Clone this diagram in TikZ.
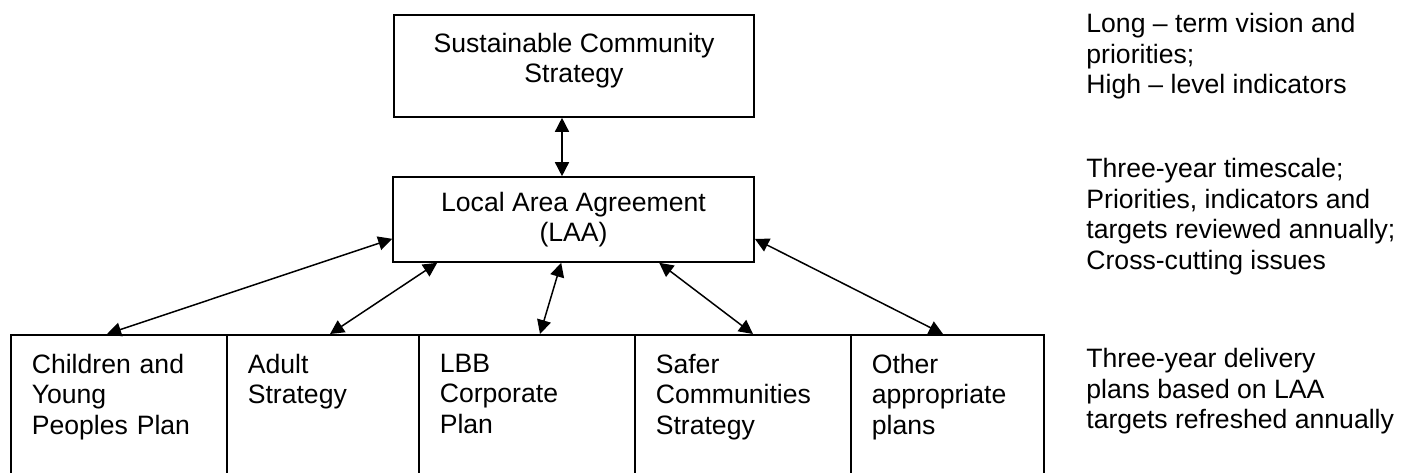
\documentclass[tikz,border=0pt]{standalone}
\usepackage{fontspec}
\setmainfont{Liberation Sans}
\usetikzlibrary{arrows.meta,calc}
\tikzset{box/.style = {draw, line width=.8pt, inner sep=0pt},
  plan/.style = {box, anchor=north west, align=left, inner xsep=10.5pt, inner ysep=9.5pt, text depth=45pt},
  note/.style = {anchor=north west, align=left, inner sep=0pt},
  link/.style = {{Triangle[length=7pt,width=7pt]}-{Triangle[length=7pt,width=7pt]}, line width=.75pt}}

\begin{document}
\begin{tikzpicture}[x=.5pt, y=-.5pt, font=\fontsize{13.3}{15.25}\selectfont]
      \useasboundingbox (0,0) rectangle (1410,472);
      \node[box, minimum width=180pt, minimum height=51pt, align=center, text depth=8pt] (scs) at (574,66)
        {Sustainable Community\\Strategy};
      \node[box, minimum width=180.5pt, minimum height=42.5pt, align=center] (laa) at (573.5,219.5)
        {Local Area Agreement\\(LAA)};
      \node[plan, text width=87pt] (cyp) at (10,334) {Children and\\Young\\Peoples Plan};
      \node[plan, text width=75pt] (adult) at (226,334) {Adult\\Strategy};
      \node[plan, text width=87pt] (lbb) at (418,334) {LBB\\Corporate\\Plan};
      \node[plan, text width=87pt] (safer) at (634,334) {Safer\\Communities\\Strategy};
      \node[plan, text width=75.5pt] (other) at (850,334) {Other\\appropriate\\plans};
      \node[note] (vision) at (1086,13) {Long -- term vision and\\priorities;\\High -- level indicators};
      \node[note] (review) at (1086,158) {Three-year timescale;\\Priorities, indicators and\\targets reviewed annually;\\Cross-cutting issues};
      \node[note] (delivery) at (1086,348) {Three-year delivery\\plans based on LAA\\targets refreshed annually};
      \draw[link] ($(scs.south)+(-12,0)$) -- ($(laa.north)+(-11.5,0)$);
      \draw[link] ($(laa.south west)+(0,-24)$) -- ($(cyp.north west)+(97,0)$);
      \draw[link] ($(laa.south west)+(45,0)$) -- ($(adult.north west)+(104,0)$);
      \draw[link] ($(laa.south west)+(169,0)$) -- ($(lbb.north west)+(122,0)$);
      \draw[link] ($(laa.south west)+(267,0)$) -- ($(safer.north west)+(119,0)$);
      \draw[link] ($(laa.south east)+(0,-24)$) -- ($(other.north west)+(93,0)$);
\end{tikzpicture}
\end{document}
